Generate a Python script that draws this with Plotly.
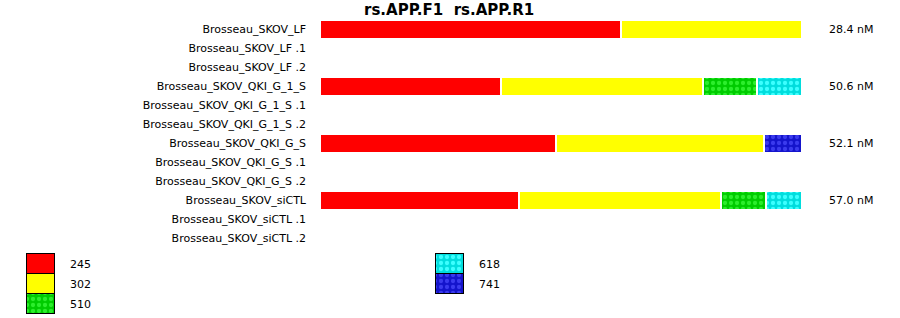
import plotly.graph_objects as go

W, H = 900, 318

title_text = "rs.APP.F1  rs.APP.R1"

row_labels = [
    "Brosseau_SKOV_LF", "Brosseau_SKOV_LF .1", "Brosseau_SKOV_LF .2",
    "Brosseau_SKOV_QKI_G_1_S", "Brosseau_SKOV_QKI_G_1_S .1", "Brosseau_SKOV_QKI_G_1_S .2",
    "Brosseau_SKOV_QKI_G_S", "Brosseau_SKOV_QKI_G_S .1", "Brosseau_SKOV_QKI_G_S .2",
    "Brosseau_SKOV_siCTL", "Brosseau_SKOV_siCTL .1", "Brosseau_SKOV_siCTL .2",
]

# percentage share of each allele per sample row (None = absent)
allele_names = ["245", "302", "510", "618", "741"]
vals_245 = [62.4, None, None, 37.6, None, None, 49.0, None, None, 41.3, None, None]
vals_302 = [37.6, None, None, 41.9, None, None, 43.2, None, None, 41.9, None, None]
vals_510 = [None, None, None, 11.2, None, None, None, None, None, 9.3, None, None]
vals_618 = [None, None, None, 9.3, None, None, None, None, None, 7.5, None, None]
vals_741 = [None, None, None, None, None, None, 7.8, None, None, None, None, None]

right_labels = ["28.4 nM", None, None, "50.6 nM", None, None,
                "52.1 nM", None, None, "57.0 nM", None, None]

allele_colors = ["#ff0000", "#ffff00", "#00cc00", "#00dddd", "#1414cc"]
allele_dots = [None, None, "#2cee2c", "#3cffff", "#3a3aee"]

series = [vals_245, vals_302, vals_510, vals_618, vals_741]

FONT = "DejaVu Sans"
LEG_TOP = 248  # pixel row where the legend axis area starts

fig = go.Figure()
ys = list(range(len(row_labels)))
for name, vals, col, dot in zip(allele_names, series, allele_colors, allele_dots):
    marker = dict(color=col, line=dict(color="white", width=2))
    if dot:
        marker["pattern"] = dict(shape=".", fgcolor=dot, bgcolor=col, size=6,
                                 solidity=0.4, fillmode="replace")
    fig.add_trace(go.Bar(
        x=vals, y=ys, orientation="h", name=name, width=1.0,
        marker=marker, showlegend=False, hoverinfo="skip",
    ))

# custom legend drawn on a separate pixel-like axis pair below the chart
legend_cols = [0, 0, 0, 1, 1]
legend_rows = [0, 1, 2, 0, 1]
for name, col, dot, c, r in zip(allele_names, allele_colors, allele_dots, legend_cols, legend_rows):
    x0 = 27 + c * 409
    yc = 264 + r * 20
    marker = dict(color=col, line=dict(color="black", width=1))
    if dot:
        marker["pattern"] = dict(shape=".", fgcolor=dot, bgcolor=col, size=6,
                                 solidity=0.4, fillmode="replace")
    fig.add_trace(go.Bar(
        x=[28], base=[x0], y=[yc], orientation="h", width=[20],
        marker=marker, xaxis="x2", yaxis="y2", showlegend=False, hoverinfo="skip",
    ))
    fig.add_annotation(x=x0 + 41, y=yc, xref="x2", yref="y2", text=name,
                       showarrow=False, xanchor="left", yanchor="middle",
                       font=dict(family=FONT, size=11, color="black"))

for i, t in enumerate(right_labels):
    if t:
        fig.add_annotation(x=827 / W, y=i, xref="paper", yref="y", text=t,
                           showarrow=False, xanchor="left", yanchor="middle",
                           font=dict(family=FONT, size=11, color="black"))

fig.add_annotation(x=449 / W, y=1 - 10 / H, xref="paper", yref="paper",
                   text="<b>" + title_text + "</b>", showarrow=False,
                   xanchor="center", yanchor="middle",
                   font=dict(family=FONT, size=15, color="black"))

fig.update_layout(
    width=W, height=H, margin=dict(l=0, r=0, t=0, b=0),
    paper_bgcolor="white", plot_bgcolor="rgba(0,0,0,0)",
    barmode="stack", bargap=0,
    font=dict(family=FONT, size=11, color="black"),
    xaxis=dict(domain=[320 / W, 802 / W], range=[0, 100], visible=False, fixedrange=True),
    yaxis=dict(domain=[70 / H, 298 / H], range=[11.5, -0.5], tickvals=ys, ticktext=row_labels,
               showgrid=False, zeroline=False, showline=False, ticks="",
               ticklabelstandoff=13, tickfont=dict(family=FONT, size=11, color="black")),
    xaxis2=dict(domain=[0, 1], range=[0, W], visible=False, anchor="y2"),
    yaxis2=dict(domain=[0, (H - LEG_TOP) / H], range=[H, LEG_TOP], visible=False, anchor="x2"),
)

fig.write_html("out.html")
